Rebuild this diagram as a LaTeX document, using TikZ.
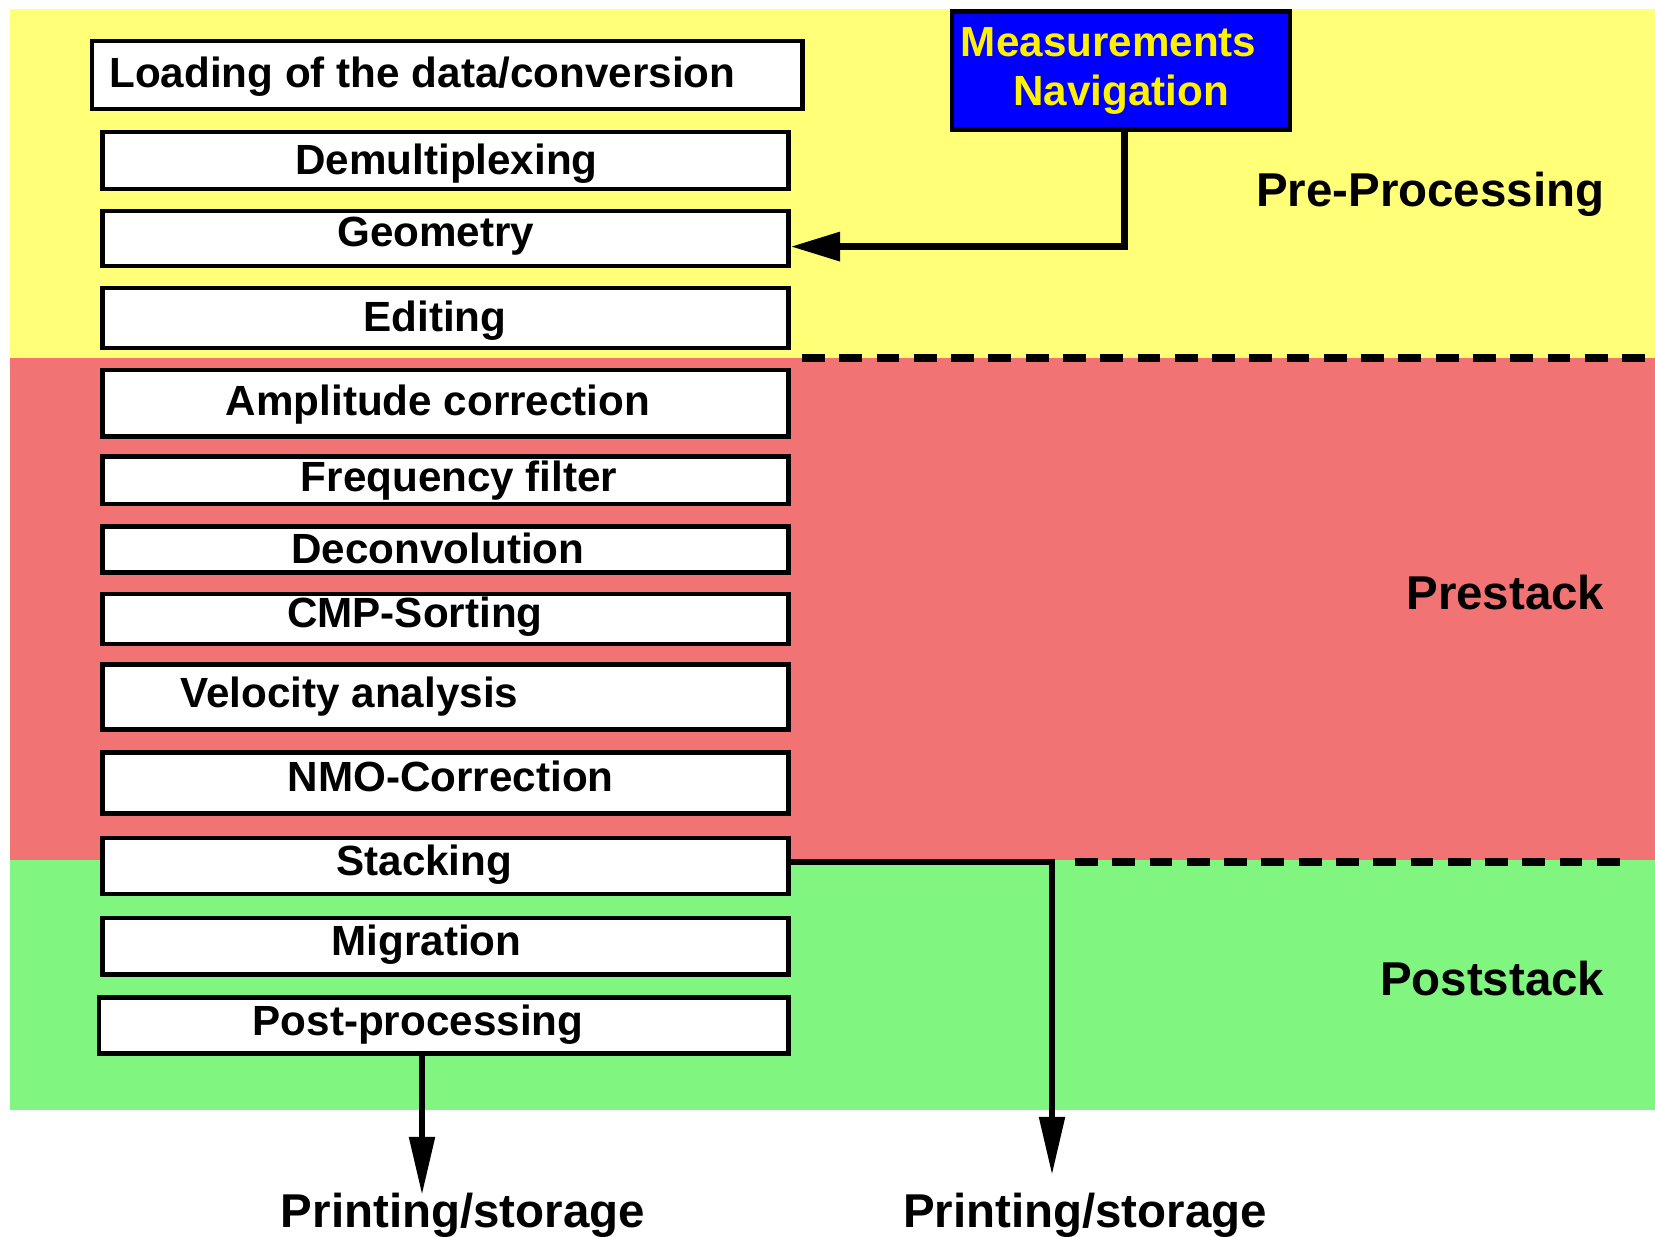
\documentclass[tikz,border=0pt]{standalone}
\usepackage{fontspec}
\setmainfont{Liberation Sans}
\usepackage{tikz}
\usetikzlibrary{arrows.meta, positioning}

\definecolor{preyellow}{RGB}{255,255,120}
\definecolor{prered}{RGB}{242,115,115}
\definecolor{postgreen}{RGB}{128,245,128}

\tikzset{
    stepbox/.style={draw, line width=1.3pt, fill=white, inner sep=0pt},
    steptext/.style={font=\fontsize{12}{14}\selectfont\bfseries, inner sep=0pt,
        text height=8.6pt, text depth=2.5pt, yshift=-1pt},
    zonetext/.style={font=\fontsize{13.5}{16}\selectfont\bfseries, inner sep=0pt,
        anchor=base east},
    navbox/.style={draw, line width=1.3pt, fill=blue, text=yellow, align=center,
        font=\fontsize{12}{14}\selectfont\bfseries, inner sep=0pt},
    flow/.style={line width=1.8pt, -{Triangle[length=14pt, width=8pt]}},
    outflow/.style={line width=1.8pt, -{Triangle[length=16.5pt, width=7pt]}},
    zoneline/.style={line width=2.3pt, dash pattern=on 6.5pt off 4.1pt},
}

\begin{document}
\begin{tikzpicture}[x=0.01cm, y=-0.01cm]

    \useasboundingbox (0,0) rectangle (1655,1237);

    % ZONES
    \fill[preyellow] (10,9) rectangle (1655,358);
    \fill[prered] (10,358) rectangle (1655,860);
    \fill[postgreen] (10,860) rectangle (1655,1110);
    \draw[zoneline] (802,358) -- (1655,358);
    \draw[zoneline] (1075,862) -- (1620,862);

    \node[zonetext] (pre) at (1605,207) {Pre-Processing};
    \node[zonetext] (prestack) at (1605,610) {Prestack};
    \node[zonetext] (poststack) at (1605,995) {Poststack};

    % PROCESSING STEPS
    \node[stepbox, minimum width=7.1cm, minimum height=0.68cm] (load) at (447,75) {};
    \node[steptext, anchor=west] (load-t) at (108.7,73) {Loading of the data/conversion};

    \foreach \name/\cy/\h/\tx/\ty/\txt in {
        demux/160.4/0.57/446.5/160.4/Demultiplexing,
        geom/238.5/0.55/435.9/232.2/Geometry,
        edit/318.2/0.60/434.9/317.7/Editing,
        ampl/403.2/0.66/438/401.1/Amplitude correction,
        freq/480.3/0.47/459.1/477.1/Frequency filter,
        decon/549.4/0.46/438/548.9/Deconvolution,
        cmp/619/0.50/414.8/613.2/CMP-Sorting,
        velo/697.2/0.65/349.4/693.5/Velocity analysis,
        nmo/783.2/0.61/450.7/776.8/NMO-Correction,
        stack/866/0.56/424.3/861.3/Stacking,
        migr/946.2/0.56/426.4/941.5/Migration
    }{
        \node[stepbox, minimum width=6.86cm, minimum height=\h cm] (\name) at (445.45,\cy) {};
        \node[steptext] (\name-t) at (\tx,\ty) {\txt};
    }

    \node[stepbox, minimum width=6.89cm, minimum height=0.56cm] (post) at (443.85,1025.4) {};
    \node[steptext] (post-t) at (418,1021.7) {Post-processing};

    % INPUT
    \node[navbox, minimum width=3.38cm, minimum height=1.18cm] (nav) at (1121,70.7)
        {Measurements\hspace*{7pt}\\Navigation};
    \draw[flow] ([xshift=1pt]nav.south) |- ([yshift=-2.3pt]geom.east);

    % OUTPUT
    \coordinate (out1) at (422,1195);
    \coordinate (out2) at (1052,1175);
    \draw[outflow] (post.south -| out1) -- (out1);
    \draw[outflow] ([yshift=1.2pt]stack.east) -| (out2);

    \node[zonetext, anchor=base] (print1) at (463,1227) {Printing/storage};
    \node[zonetext, anchor=base] (print2) at (1085,1227) {Printing/storage};

\end{tikzpicture}
\end{document}
